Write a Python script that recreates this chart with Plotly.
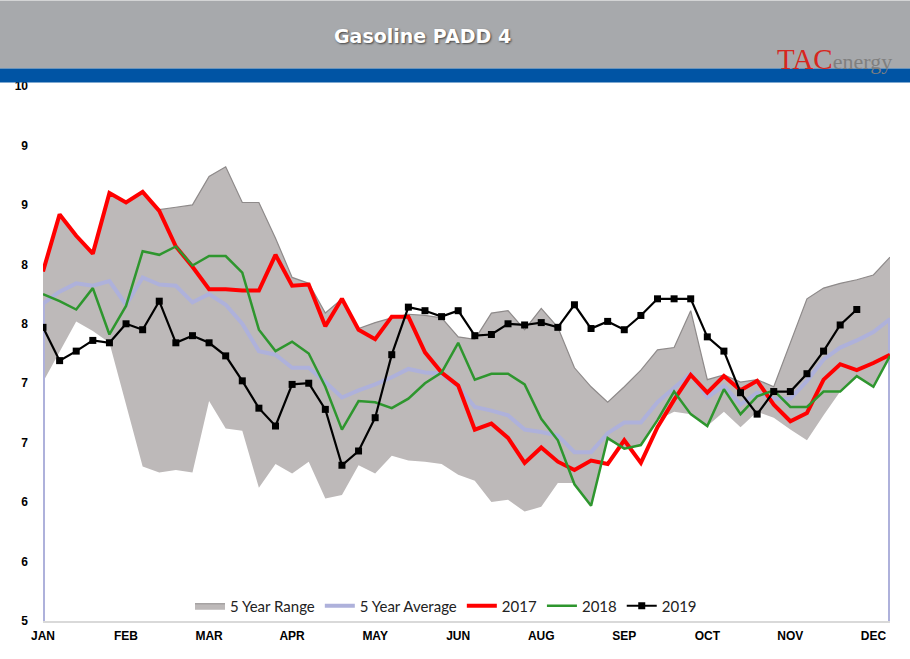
import plotly.graph_objects as go

weeks = list(range(52))
month_ticks = [0, 5, 10, 15, 20, 25, 30, 35, 40, 45, 50]
month_labels = ["JAN", "FEB", "MAR", "APR", "MAY", "JUN", "AUG", "SEP", "OCT", "NOV", "DEC"]
y_ticks = [5, 5.5, 6, 6.5, 7, 7.5, 8, 8.5, 9, 9.5]
y_labels = ["5", "6", "6", "7", "7", "8", "8", "9", "9", "10"]

range_upper = [7.94, 8.42, 8.24, 8.09, 8.60, 8.52, 8.61, 8.46, 8.48, 8.50, 8.74, 8.82, 8.52, 8.52,
               8.22, 7.89, 7.84, 7.59, 7.71, 7.46, 7.51, 7.55, 7.58, 7.57, 7.55, 7.39, 7.37, 7.59,
               7.61, 7.45, 7.63, 7.47, 7.13, 6.97, 6.84, 6.97, 7.11, 7.28, 7.30, 7.61, 7.03, 7.07,
               7.01, 7.03, 6.97, 7.34, 7.71, 7.80, 7.84, 7.87, 7.91, 8.06]
range_lower = [7.01, 7.26, 7.52, 7.44, 7.34, 6.82, 6.30, 6.25, 6.27, 6.25, 6.85, 6.62, 6.60, 6.12,
               6.32, 6.24, 6.34, 6.03, 6.06, 6.31, 6.24, 6.39, 6.35, 6.34, 6.32, 6.23, 6.18, 6.00,
               6.02, 5.92, 5.96, 6.16, 6.16, 5.97, 6.52, 6.45, 6.48, 6.69, 6.76, 6.74, 6.64, 6.76,
               6.63, 6.76, 6.71, 6.61, 6.52, 6.73, 6.93, 7.05, 6.97, 7.23]
avg5 = [7.67, 7.77, 7.84, 7.82, 7.86, 7.66, 7.89, 7.83, 7.82, 7.68, 7.75, 7.66, 7.50, 7.27,
        7.24, 7.13, 7.13, 7.01, 6.88, 6.94, 6.99, 7.05, 7.12, 7.09, 7.08, 6.97, 6.80, 6.77,
        6.73, 6.61, 6.59, 6.56, 6.42, 6.42, 6.58, 6.67, 6.67, 6.84, 6.96, 7.08, 6.88, 6.98,
        6.82, 6.92, 6.87, 6.87, 7.02, 7.20, 7.30, 7.36, 7.43, 7.54]
y2017 = [7.94, 8.42, 8.24, 8.09, 8.60, 8.52, 8.61, 8.45, 8.15, 7.98, 7.79, 7.79, 7.78, 7.78,
         8.08, 7.82, 7.83, 7.48, 7.71, 7.45, 7.37, 7.56, 7.56, 7.26, 7.09, 6.98, 6.61, 6.66,
         6.54, 6.33, 6.46, 6.34, 6.27, 6.35, 6.32, 6.52, 6.33, 6.63, 6.86, 7.07, 6.92, 7.06,
         6.94, 7.02, 6.82, 6.68, 6.75, 7.03, 7.16, 7.11, 7.17, 7.24]
y2018 = [7.75, 7.69, 7.62, 7.80, 7.41, 7.65, 8.11, 8.08, 8.15, 7.99, 8.07, 8.07, 7.93, 7.45,
         7.27, 7.35, 7.25, 6.97, 6.61, 6.85, 6.84, 6.79, 6.87, 7.00, 7.09, 7.34, 7.03, 7.08,
         7.08, 6.99, 6.70, 6.52, 6.15, 5.97, 6.54, 6.45, 6.48, 6.69, 6.93, 6.74, 6.64, 6.95,
         6.74, 6.89, 6.94, 6.80, 6.80, 6.93, 6.93, 7.06, 6.97, 7.23]
y2019 = [7.47, 7.19, 7.27, 7.36, 7.34, 7.50, 7.45, 7.69, 7.34, 7.40, 7.34, 7.23, 7.02, 6.79,
         6.64, 6.99, 7.00, 6.78, 6.31, 6.43, 6.71, 7.24, 7.64, 7.61, 7.56, 7.61, 7.40, 7.41,
         7.50, 7.49, 7.51, 7.47, 7.66, 7.46, 7.52, 7.45, 7.57, 7.71, 7.71, 7.71, 7.39, 7.27,
         6.92, 6.74, 6.93, 6.93, 7.08, 7.27, 7.49, 7.62]

Y_MIN, Y_MAX = 5, 9.5
X_MIN, X_MAX = 0, 51

fig = go.Figure()

fig.add_trace(go.Scatter(x=weeks, y=range_lower, mode="lines", line=dict(width=0, color="#BDB9B9"),
                         showlegend=False, hoverinfo="skip"))
fig.add_trace(go.Scatter(x=weeks, y=range_upper, mode="lines", fill="tonexty", fillcolor="#BDB9B9",
                         line=dict(width=1.2, color="#8E8A8A"), name="5 Year Range"))
fig.add_trace(go.Scatter(x=[weeks[0]] + weeks + [weeks[-1]], y=[Y_MIN] + avg5 + [Y_MIN],
                         mode="lines", line=dict(width=4, color="#AEB1DB"), name="5 Year Average"))
fig.add_trace(go.Scatter(x=weeks, y=y2017, mode="lines", line=dict(width=4, color="#FF0000"), name="2017"))
fig.add_trace(go.Scatter(x=weeks, y=y2018, mode="lines", line=dict(width=2.5, color="#2E962E"), name="2018"))
fig.add_trace(go.Scatter(x=weeks[:len(y2019)], y=y2019, mode="lines+markers",
                         line=dict(width=2.2, color="#000000"),
                         marker=dict(symbol="square", size=7, color="#000000"), name="2019"))

L, R, T, B = 43, 20, 85.5, 38
PW, PH = 910 - L - R, 659 - T - B

def px(xp):
    return (xp - L) / PW

def py(yp):
    return (659 - B - yp) / PH

fig.update_layout(
    width=910, height=659,
    margin=dict(l=L, r=R, t=T, b=B, pad=0),
    paper_bgcolor="white", plot_bgcolor="white",
    xaxis=dict(range=[X_MIN, X_MAX], tickmode="array", tickvals=month_ticks, ticktext=month_labels,
               showgrid=False, zeroline=False, showline=True, linecolor="#D9D9D9", linewidth=1.5,
               ticks="", tickfont=dict(family="Liberation Sans, Arial", size=12, color="black", weight="bold"),
               ticklabelstandoff=3),
    yaxis=dict(range=[Y_MIN, Y_MAX], tickmode="array", tickvals=y_ticks, ticktext=y_labels,
               showgrid=False, zeroline=False, showline=False, ticks="",
               tickfont=dict(family="Liberation Sans, Arial", size=12, color="black", weight="bold"),
               ticklabelstandoff=14),
    legend=dict(orientation="h", x=px(446), xanchor="center", y=py(606), yanchor="middle",
                traceorder="normal",
                font=dict(family="Lato, Open Sans, sans-serif", size=15, color="#222"),
                bgcolor="rgba(0,0,0,0)", itemwidth=30, tracegroupgap=0),
    showlegend=True,
    shapes=[
        dict(type="rect", xref="paper", yref="paper", x0=px(0), x1=px(910), y0=py(68), y1=py(0),
             fillcolor="#A7A9AC", line=dict(width=0), layer="above"),
        dict(type="rect", xref="paper", yref="paper", x0=px(0), x1=px(910), y0=py(82), y1=py(68),
             fillcolor="#0054A4", line=dict(width=0), layer="above"),
    ],
    annotations=[
        dict(text="Gasoline PADD 4", xref="paper", yref="paper", x=px(422), y=py(35),
             xanchor="center", yanchor="middle", showarrow=False,
             font=dict(family="DejaVu Sans, Arial", size=19, color="white", weight="bold",
                       shadow="1px 1px 2px #444")),
        dict(text='<span style="color:#D7261E;font-size:29px">TAC</span><span style="color:#7F7F7F">energy</span>',
             xref="paper", yref="paper", x=px(834), y=py(58), xanchor="center", yanchor="middle",
             showarrow=False, font=dict(family="Liberation Serif, serif", size=22, color="#7F7F7F")),
    ],
)

fig.write_html("out.html")
